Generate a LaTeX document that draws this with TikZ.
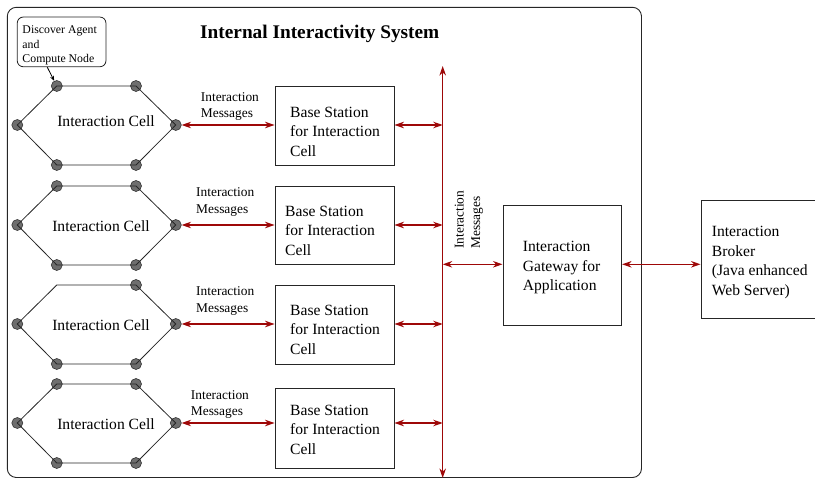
\documentclass[tikz,border=0pt]{standalone}
\usepackage{fontspec}
\setmainfont{Liberation Serif}
\usetikzlibrary{arrows.meta}
\definecolor{arrred}{RGB}{158,8,8}
\definecolor{dotgray}{RGB}{110,110,110}
\tikzset{
  vtx/.style={circle,draw=black!80,fill=dotgray,line width=0.6pt,minimum size=11pt,inner sep=0pt},
  hexline/.style={draw=black!85,line width=0.8pt},
  boxstyle/.style={draw=black!85,line width=0.9pt,inner sep=0pt,minimum width=119pt},
  bigtext/.style={inner sep=0pt,align=left,font=\fontsize{15.6}{19.5}\selectfont},
  smalltext/.style={inner sep=0pt,align=left,font=\fontsize{13.4}{16.5}\selectfont},
  redarrow/.style={draw=arrred,line width=1.2pt,{Stealth[length=9.5pt,width=6.5pt,inset=3pt]}-{Stealth[length=9.5pt,width=6.5pt,inset=3pt]}}
}
\begin{document}
\begin{tikzpicture}[x=1pt,y=-1pt]
\useasboundingbox (0,0) rectangle (815,479);
% outer system frame
\draw[draw=black!85,line width=0.9pt,rounded corners=9pt] (7.3,7.3) rectangle (641.5,477.5);
\node[anchor=base west,inner sep=0pt,font=\fontsize{19.3}{23}\selectfont\bfseries] (title) at (200,38) {Internal Interactivity System};
% callout
\node[draw=black!85,line width=0.8pt,rounded corners=6pt,minimum width=88.7pt,minimum height=49.7pt,inner sep=0pt] (callbox) at (61.6,41.9) {};
\node[anchor=base west,inner sep=0pt,align=left,font=\fontsize{11.8}{15}\selectfont] (calltext) at (22.3,63) {Discover Agent\\and\\Compute Node};
% bus
\coordinate (bustop) at (442.7,66);
\coordinate (busbot) at (442.7,478);
\draw[redarrow] (bustop) -- (busbot);
% cells
\foreach \i/\yc/\lx/\lb/\bt/\bb/\tx/\tb/\cx/\cb in {
  1/125/200.7/117.5/86/165/290/156/106/126.5,
  2/225/196/213.2/186/264/285/255/101/231.5,
  3/324/196/312/285/364/290/354/101/330.5,
  4/423/190.7/415.5/388/468/290/454/106/429.5}{
  \node[vtx] (c\i l) at (17.3,\yc) {};
  \node[vtx] (c\i r) at (175.8,\yc) {};
  \ifnum\i=3
    \coordinate (c\i tl) at (56.8,\yc-39);
  \else
    \node[vtx] (c\i tl) at (56.8,\yc-39) {};
  \fi
  \node[vtx] (c\i tr) at (136,\yc-39) {};
  \node[vtx] (c\i bl) at (56.8,\yc+40) {};
  \node[vtx] (c\i br) at (136,\yc+40) {};
  \draw[hexline] (c\i l.center) -- (c\i tl.center) -- (c\i tr.center) -- (c\i r.center)
     -- (c\i br.center) -- (c\i bl.center) -- cycle;
  \node[bigtext,anchor=base] (cl\i) at (\cx,\cb) {Interaction Cell};
  % base station
  \node[boxstyle,minimum height={(\bb-\bt)*1pt}] (b\i) at (334.5,{(\bt+\bb)/2}) {};
  \node[bigtext,anchor=base west] (bt\i) at (\tx,\tb) {Base Station\\for Interaction\\Cell};
  \node[smalltext,anchor=base west] (ml\i) at (\lx,\lb) {Interaction\\Messages};
  \draw[redarrow] (c\i r) -- (b\i.west |- c\i r);
  \draw[redarrow] (b\i.east |- c\i r) -- (bustop |- c\i r);
}
% gateway
\node[boxstyle,minimum width=118.7pt,minimum height=120pt] (gw) at (562.3,265) {};
\node[bigtext,anchor=base west] (gwt) at (522.7,290.5) {Interaction\\Gateway for\\Application};
\coordinate (gwbus) at (442.7,264.3);
\draw[redarrow] (gwbus) -- (gw.west |- gwbus);
\node[smalltext,anchor=base west,rotate=90] (gwl) at (480,249) {Interaction\\Messages};
% broker (runs past the right edge of the picture)
\node[boxstyle,minimum width=120pt,minimum height=118pt] (br) at (761,259) {};
\node[bigtext,anchor=base west] (brt) at (711.7,295) {Interaction\\Broker\\(Java enhanced\\Web Server)};
\draw[redarrow] (gw.east |- gwbus) -- (br.west |- gwbus);
% callout pointer
\draw[draw=black,line width=0.8pt,-{Stealth[length=5pt,width=4pt]}] (callbox.south west) ++(30.4,0) coordinate (cp) (cp) -- (c1tl);
\end{tikzpicture}
\end{document}
